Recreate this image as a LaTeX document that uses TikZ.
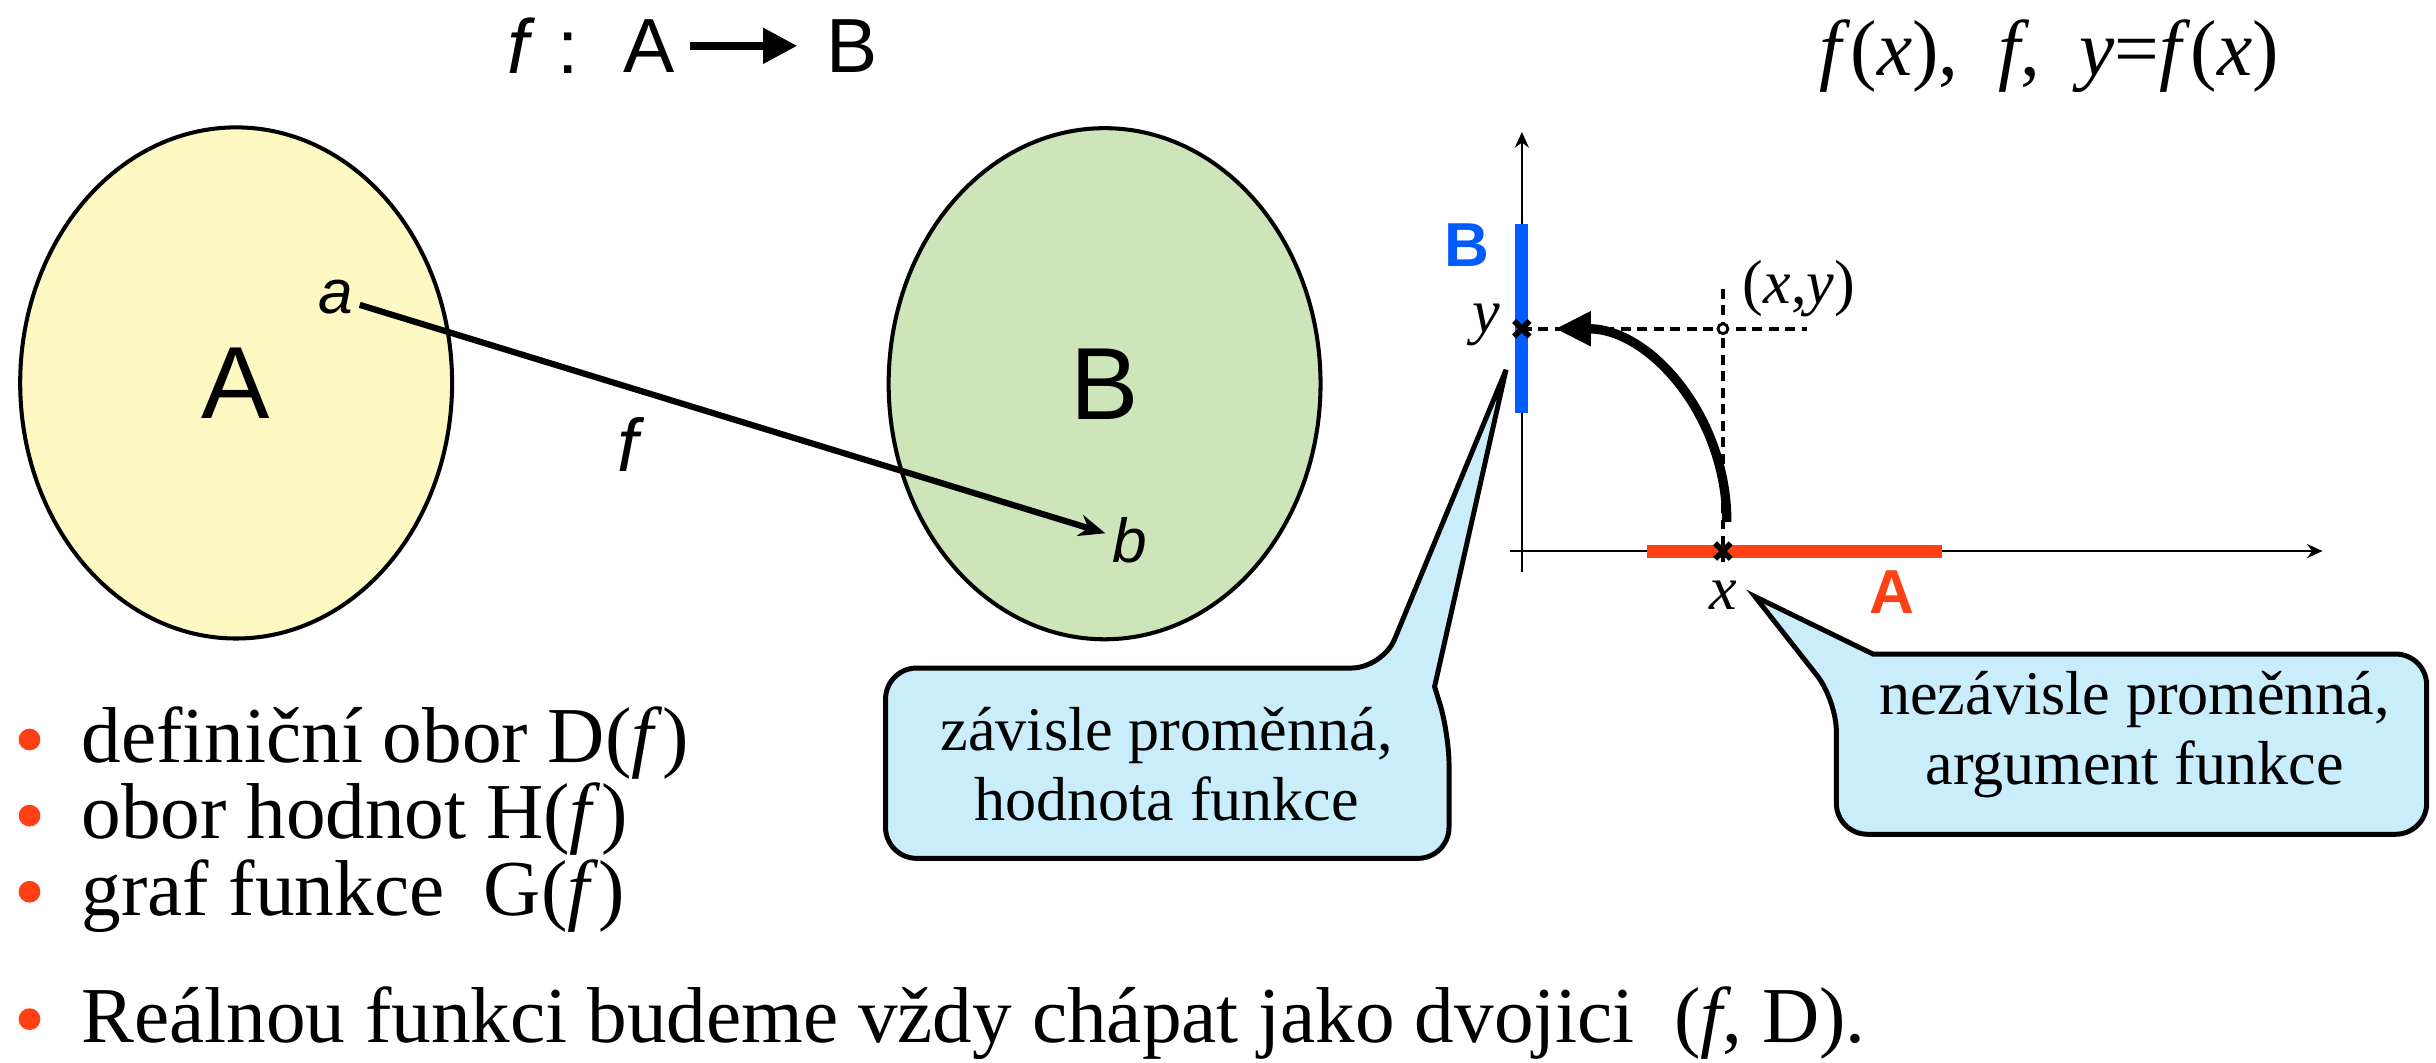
\documentclass[tikz,border=0pt]{standalone}
\usepackage{fontspec}
\setmainfont{Liberation Serif}
\setsansfont{Liberation Sans}
\usepackage{tikz}
\usetikzlibrary{
  arrows.meta,
  positioning,
  shapes.geometric
}
\definecolor{setyellow}{RGB}{254,249,195}
\definecolor{setgreen}{RGB}{205,229,184}
\definecolor{bubbleblue}{RGB}{201,237,250}
\definecolor{domred}{RGB}{255,64,21}
\definecolor{rangeblue}{RGB}{0,92,255}
\newcommand{\fsz}[2]{\fontsize{#1}{#2}\selectfont}

\begin{document}
\begin{tikzpicture}[x=0.5pt, y=-0.5pt,
  setnode/.style={ellipse, draw=black, line width=1.3pt, inner sep=0pt, minimum width=139pt, minimum height=164.5pt, font=\sffamily\fsz{33}{36}},
  elem/.style={font=\sffamily\itshape\fsz{20}{24}, inner sep=2pt},
  maparrow/.style={-{Stealth[length=8.5pt, width=7pt]}, line width=2pt},
  titletext/.style={font=\sffamily\fsz{24.7}{28}, inner sep=0pt},
  titlearrow/.style={-{Triangle[length=11pt, width=11pt]}, line width=2.4pt, shorten <=4.9pt, shorten >=9.2pt},
  axisline/.style={line width=0.8pt, -{Stealth[length=5pt, width=4.5pt]}},
  rangebar/.style={line width=4.2pt},
  guide/.style={line width=1.3pt, dash pattern=on 3.2pt off 2.1pt},
  xmark/.style={line width=1.8pt},
  maparc/.style={line width=3pt, -{Triangle[length=11.5pt, width=10.5pt]}},
  bubble/.style={draw=black, line width=1.6pt, fill=bubbleblue},
  bubbletext/.style={font=\fsz{20}{22.5}, align=center, inner sep=0pt},
  mathlbl/.style={font=\fsz{20}{24}, inner sep=1pt},
  setlbl/.style={font=\sffamily\bfseries\fsz{20}{24}, inner sep=0pt},
  itemtext/.style={font=\fsz{25.5}{30}, anchor=base west, inner sep=0pt},
  itemdot/.style={circle, fill=domred, minimum size=7pt, inner sep=0pt}
]
\useasboundingbox (0,0) rectangle (1568,684);

% title row
\node[titletext] (tmap) at (349.7,29.5) {\textit{f} :};
\node[titletext, right=14pt of tmap] (tdom) {A};
\node[titletext, right=48.5pt of tdom] (tcod) {B};
\draw[titlearrow] (tdom) -- (tcod);
\node[font=\fsz{25.5}{30}, inner sep=0pt] (fnot) at (1319,36)
  {\textit{f}(\textit{x}),\ \ \textit{f},\ \ \textit{y}=\textit{f}(\textit{x})};

% the two sets
\node[setnode, fill=setyellow] (A) at (152,246.5) {A};
\node[setnode, fill=setgreen] (B) at (711,247) {B};
\node[elem] (a) at (216,191.5) {a};
\node[elem] (b) at (727,348) {b};
\draw[maparrow] (a) -- (b);
\node[elem, font=\sffamily\itshape\fsz{24}{28}] (fname) at (404,286) {f};

% callouts
\draw[bubble] (570,490) [rounded corners=10pt] -- (570,430) -- (890,430) [sharp corners] -- (969.4,238)
  -- (923.4,442) [rounded corners=10pt] -- (932.7,472) -- (932.7,552.5) -- (570,552.5) -- cycle;
\node[bubbletext] (depnote) at (751,492) {závisle proměnná,\\hodnota funkce};
\draw[bubble] (1372,537) [rounded corners=10pt] -- (1182,537) -- (1182,450.6) [sharp corners] -- (1129.6,384)
  -- (1205.6,421) [rounded corners=10pt] -- (1562,421) -- (1562,537) -- cycle;
\node[bubbletext] (indnote) at (1374,473) {nezávisle proměnná,\\argument funkce};

% graph
\coordinate (ytop) at (979.6,85);
\coordinate (ybot) at (979.6,368);
\coordinate (xleft) at (972,354.7);
\coordinate (xright) at (1495,354.7);
\coordinate (py) at (979.6,211.6);
\coordinate (px) at (1109,354.7);
\coordinate (pxy) at (1109,211.6);
\coordinate (fstart) at (1111.5,336);
\coordinate (fend) at (1001,211.6);
\draw[axisline] (ybot) -- (ytop);
\draw[axisline] (xleft) -- (xright);
\draw[rangebar, rangeblue] (979.6,144) -- (979.6,266);
\draw[rangebar, domred] (1060,354.7) -- (1250,354.7);
\draw[guide] (py) -- (1163,211.6);
\draw[guide] (1109,186) -- (1109,364);
\draw[xmark] (py) +(-5,-5) -- +(5,5) +(-5,5) -- +(5,-5);
\draw[xmark] (px) +(-5,-5) -- +(5,5) +(-5,5) -- +(5,-5);
\draw[fill=white, line width=0.9pt] (pxy) circle[radius=3.2];
\draw[maparc] (fstart) .. controls (1111.5,268) and (1062,211.6) .. (fend);
\node[mathlbl] (ylbl) at (957,209) {\textit{y}};
\node[mathlbl] (xlbl) at (1109,383) {\textit{x}};
\node[mathlbl] (pairlbl) at (1158,186) {(\textit{x},\textit{y})};
\node[setlbl, text=rangeblue] (Blbl) at (944,158) {B};
\node[setlbl, text=domred] (Albl) at (1218,381) {A};

% bullet list
\node[itemdot] (dot1) at (19,476) {};
\node[itemtext] (item1) at (52,491) {definiční obor D(\textit{f})};
\node[itemdot] (dot2) at (19,525) {};
\node[itemtext] (item2) at (52,540) {obor hodnot H(\textit{f})};
\node[itemdot] (dot3) at (19,574) {};
\node[itemtext] (item3) at (52,589) {graf funkce\ \ G(\textit{f})};
\node[itemdot] (dot4) at (19,656) {};
\node[itemtext] (item4) at (52,671) {Reálnou funkci budeme vždy chápat jako dvojici\ \ (\textit{f}, D).};
\end{tikzpicture}
\end{document}
